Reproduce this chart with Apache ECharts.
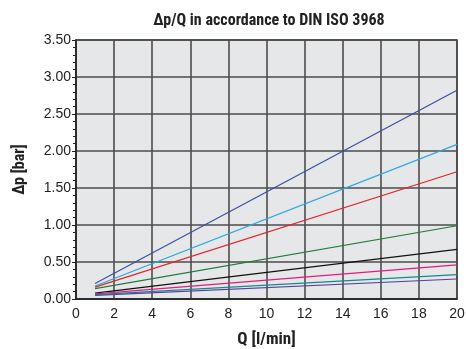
<!DOCTYPE html>
<html>
<head>
<meta charset="utf-8">
<script src="https://cdn.jsdelivr.net/npm/echarts@6/dist/echarts.min.js"></script>
<style>
html,body{margin:0;padding:0;background:#fff;}
#chart{width:466px;height:349px;}
</style>
</head>
<body>
<div id="chart"></div>
<script>
// DATA
const flowQ = [1, 20];
const seriesNames = ['s1','s2','s3','s4','s5','s6','s7','s8'];
const s1 = [0.21, 2.82];
const s2 = [0.175, 2.09];
const s3 = [0.16, 1.72];
const s4 = [0.14, 0.99];
const s5 = [0.08, 0.67];
const s6 = [0.07, 0.46];
const s7 = [0.06, 0.33];
const s8 = [0.05, 0.27];
const lineColors = ['#3c4fa2','#2aa8e0','#e2242b','#1f7a3e','#111111','#e8197f','#138b8b','#5a3f9f'];

const allValues=[s1,s2,s3,s4,s5,s6,s7,s8];
const cond='"Liberation Sans Narrow","Roboto Condensed","Liberation Sans",Arial,sans-serif';
const reg='"Liberation Sans",Arial,sans-serif';

const chart=echarts.init(document.getElementById('chart'),null,{renderer:'canvas'});
chart.setOption({
  animation:false,
  title:{
    text:'\u2206p/Q in accordance to DIN ISO 3968',
    left:264,top:8,textAlign:'center',
    textStyle:{fontFamily:cond,fontWeight:'bold',fontSize:16,color:'#222'}
  },
  grid:{left:76,right:9,top:40,bottom:50,containLabel:false,outerBoundsMode:'none',
    show:true,backgroundColor:'#e6e7e8',borderColor:'#333',borderWidth:1.5},
  xAxis:{
    type:'value',min:0,max:20,interval:2,
    name:'Q [l/min]',nameLocation:'middle',nameGap:32,
    nameTextStyle:{fontFamily:cond,fontWeight:'bold',fontSize:17,color:'#222'},
    axisLine:{show:true,lineStyle:{color:'#222',width:1.5}},
    axisTick:{show:false},
    axisLabel:{fontFamily:reg,fontSize:14,color:'#222',margin:8},
    splitLine:{show:true,lineStyle:{color:'#4d4d4d',width:1.6}}
  },
  yAxis:{
    type:'value',min:0,max:3.5,interval:0.5,
    name:'\u2206p [bar]',nameLocation:'middle',nameGap:48,
    nameTextStyle:{fontFamily:cond,fontWeight:'bold',fontSize:16,color:'#222'},
    axisLine:{show:true,lineStyle:{color:'#222',width:1.5}},
    axisTick:{show:true,length:4,lineStyle:{color:'#222'}},
    minorTick:{show:true,splitNumber:5,length:3,lineStyle:{color:'#222'}},
    axisLabel:{fontFamily:reg,fontSize:14,color:'#222',margin:5,formatter:v=>v.toFixed(2)},
    splitLine:{show:true,lineStyle:{color:'#4d4d4d',width:1.6}}
  },
  series:allValues.map((vals,i)=>({
    name:seriesNames[i],type:'line',symbol:'none',
    data:flowQ.map((q,j)=>[q,vals[j]]),
    lineStyle:{color:lineColors[i],width:1.2}
  }))
});
</script>
</body>
</html>
